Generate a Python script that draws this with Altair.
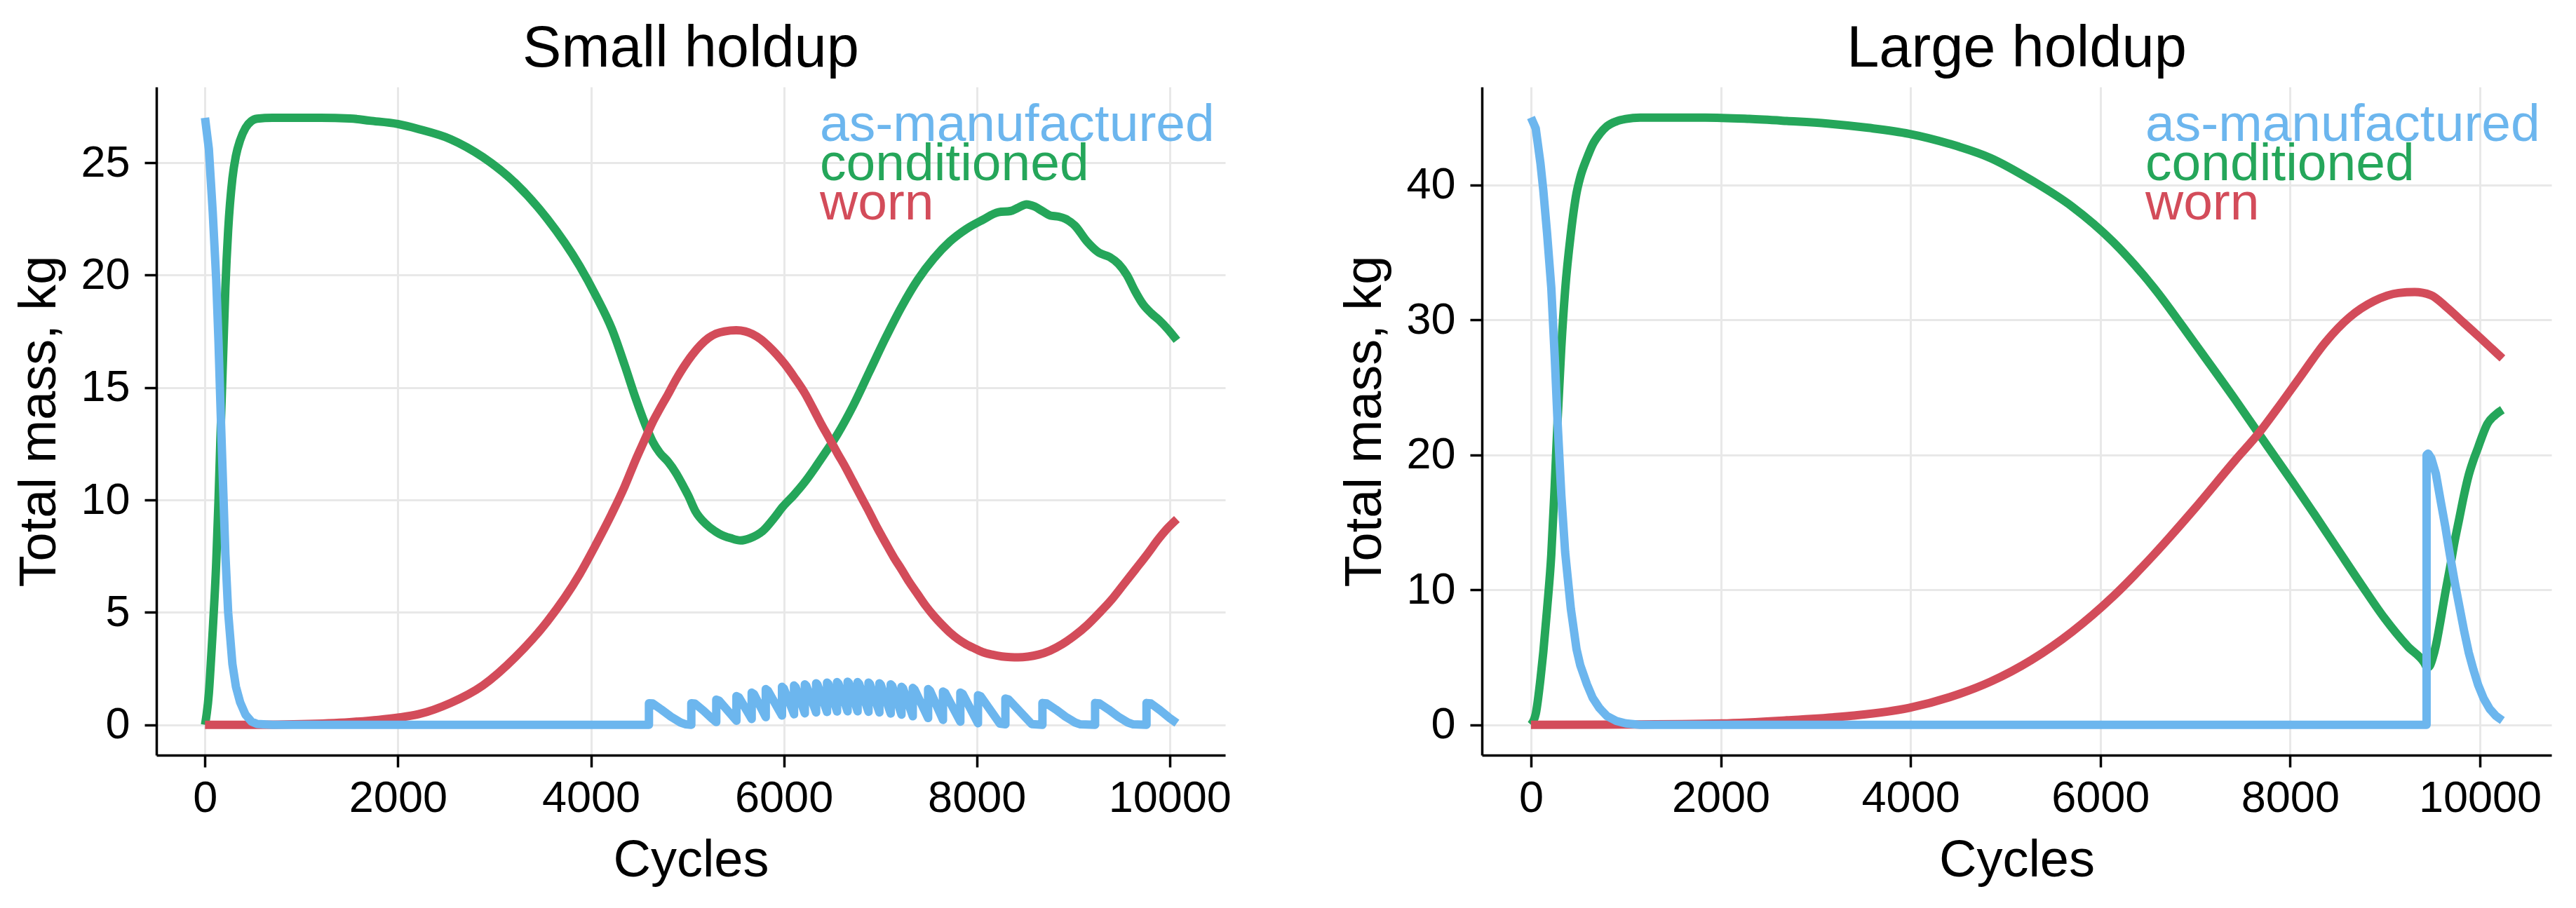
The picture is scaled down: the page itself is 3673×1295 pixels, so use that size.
import altair as alt
import pandas as pd

FONT = "Liberation Sans"
BLUE = "#6cb6ee"
GREEN = "#25a65a"
RED = "#d34c5a"

SERIES_NAMES = ["as-manufactured", "conditioned", "worn"]
SERIES_COLORS = [BLUE, GREEN, RED]
X_TICKS = [0, 2000, 4000, 6000, 8000, 10000]

# ---------------- Small holdup ----------------
SMALL_TITLE = "Small holdup"
SMALL_Y_TICKS = [0, 5, 10, 15, 20, 25]
SMALL_X_DOMAIN = [-504, 10576]
SMALL_Y_DOMAIN = [-1.35, 28.37]

SMALL_AM_CYCLES = [
    0, 40, 80, 116, 140, 163, 190, 211, 240, 284, 320, 364, 420, 480, 540, 700, 4602,
    4602, 4640, 4730, 4830, 4930, 4985, 5041,
    5041, 5080, 5170, 5250, 5300,
    5300, 5330, 5509,
    5509, 5535, 5667,
    5667, 5690, 5813,
    5813, 5835, 5981,
    5981, 6000, 6106,
    6106, 6122, 6218,
    6218, 6234, 6335,
    6335, 6350, 6448,
    6448, 6463, 6552,
    6552, 6567, 6661,
    6661, 6676, 6765,
    6765, 6780, 6878,
    6878, 6893, 6991,
    6991, 7006, 7108,
    7108, 7124, 7220,
    7220, 7236, 7337,
    7337, 7355, 7496,
    7496, 7515, 7650,
    7650, 7672, 7830,
    7830, 7855, 8013,
    8013, 8040, 8240, 8297,
    8297, 8330, 8570, 8681,
    8681, 8725, 8820, 8920, 9020, 9075, 9227,
    9227, 9272, 9367, 9467, 9567, 9622, 9760,
    9760, 9805, 9900, 10000, 10075,
]
SMALL_AM_MASS = [
    27.0, 25.6, 22.8, 19.8, 17.0, 13.8, 10.3, 7.6, 5.0, 2.7, 1.7, 1.0, 0.45, 0.15, 0.04, 0.0, 0.0,
    0.96, 0.95, 0.68, 0.36, 0.10, 0.02, 0.0,
    0.96, 0.94, 0.62, 0.30, 0.12,
    1.12, 1.07, 0.18,
    1.28, 1.22, 0.26,
    1.43, 1.37, 0.34,
    1.59, 1.52, 0.41,
    1.69, 1.62, 0.47,
    1.75, 1.68, 0.51,
    1.80, 1.73, 0.55,
    1.85, 1.78, 0.57,
    1.88, 1.81, 0.59,
    1.90, 1.83, 0.60,
    1.92, 1.85, 0.60,
    1.90, 1.83, 0.58,
    1.88, 1.81, 0.55,
    1.85, 1.78, 0.50,
    1.80, 1.73, 0.45,
    1.69, 1.62, 0.38,
    1.64, 1.57, 0.30,
    1.59, 1.52, 0.22,
    1.48, 1.42, 0.14,
    1.43, 1.37, 0.07,
    1.32, 1.27, 0.05, 0.02,
    1.17, 1.13, 0.03, 0.0,
    0.97, 0.95, 0.68, 0.36, 0.10, 0.02, 0.0,
    0.97, 0.95, 0.68, 0.36, 0.10, 0.02, 0.0,
    0.97, 0.95, 0.65, 0.30, 0.07,
]

SMALL_COND_CYCLES = [
    0, 40, 65, 80, 116, 140, 163, 190, 211, 240, 284, 320, 364, 420, 480, 540, 700,
    1200, 1500, 1709, 2000, 2211, 2545, 2880, 3215, 3549, 3884, 4050, 4218, 4350,
    4466, 4560, 4640, 4714, 4800, 4882, 4960, 5009, 5084, 5200, 5330, 5450, 5550,
    5650, 5789, 5900, 5990, 6100, 6218, 6335, 6430, 6553, 6720, 6887, 7054, 7222,
    7389, 7556, 7723, 7891, 8058, 8225, 8349, 8430, 8516, 8600, 8680, 8764, 8850,
    8920, 9018, 9142, 9266, 9380, 9470, 9557, 9640, 9724, 9810, 9891, 9980, 10075,
]
SMALL_COND_MASS = [
    0.0, 1.4, 3.1, 4.2, 7.2, 10.0, 13.2, 16.7, 19.4, 22.0, 24.3, 25.3, 26.0, 26.55, 26.85, 26.96, 27.0,
    27.0, 26.97, 26.87, 26.72, 26.5, 26.05, 25.25, 24.1, 22.5, 20.4, 19.1, 17.6, 16.0,
    14.5, 13.4, 12.6, 12.1, 11.7, 11.2, 10.6, 10.2, 9.5, 8.9, 8.5, 8.3, 8.2,
    8.3, 8.65, 9.2, 9.7, 10.2, 10.8, 11.5, 12.1, 12.9, 14.2, 15.7, 17.2, 18.6,
    19.8, 20.75, 21.5, 22.05, 22.45, 22.8, 22.85, 23.0, 23.15, 23.05, 22.85, 22.65, 22.6,
    22.5, 22.2, 21.5, 21.0, 20.8, 20.5, 20.0, 19.3, 18.7, 18.3, 18.0, 17.6, 17.1,
]

SMALL_WORN_CYCLES = [
    0, 500, 1000, 1500, 1800, 2000, 2211, 2545, 2880, 3215, 3549, 3884, 4050, 4218,
    4350, 4466, 4560, 4633, 4714, 4800, 4882, 4960, 5050, 5140, 5218, 5300, 5385,
    5507, 5600, 5673, 5760, 5840, 5920, 6009, 6110, 6218, 6300, 6385, 6470, 6553,
    6640, 6720, 6800, 6887, 6970, 7054, 7140, 7222, 7300, 7389, 7470, 7556, 7640,
    7723, 7810, 7891, 7975, 8058, 8160, 8262, 8350, 8429, 8530, 8640, 8760, 8888,
    9010, 9142, 9265, 9389, 9515, 9643, 9770, 9891, 9980, 10075,
]
SMALL_WORN_MASS = [
    0.0, 0.0, 0.03, 0.12, 0.22, 0.32, 0.47, 0.97, 1.75, 3.0, 4.6, 6.7, 8.0, 9.4,
    10.6, 11.8, 12.7, 13.4, 14.05, 14.7, 15.35, 15.9, 16.45, 16.9, 17.2, 17.4, 17.5,
    17.55, 17.5, 17.38, 17.15, 16.85, 16.5, 16.05, 15.45, 14.75, 14.1, 13.4, 12.75, 12.1,
    11.45, 10.8, 10.15, 9.45, 8.75, 8.1, 7.45, 6.9, 6.35, 5.8, 5.3, 4.84, 4.45,
    4.1, 3.8, 3.58, 3.4, 3.24, 3.12, 3.04, 3.01, 3.0, 3.03, 3.12, 3.3, 3.59,
    3.95, 4.42, 4.95, 5.52, 6.2, 6.9, 7.6, 8.3, 8.75, 9.15,
]

# ---------------- Large holdup ----------------
LARGE_TITLE = "Large holdup"
LARGE_Y_TICKS = [0, 10, 20, 30, 40]
LARGE_X_DOMAIN = [-517, 10754]
LARGE_Y_DOMAIN = [-2.25, 47.27]

LARGE_AM_CYCLES = [
    0, 50, 100, 130, 170, 214, 250, 280, 320, 360, 420, 480, 520, 590, 650, 720,
    800, 900, 1000, 1150, 9438,
    9438, 9455, 9488, 9536, 9586, 9635, 9684, 9734, 9783, 9832, 9882, 9931, 9981,
    10040, 10104, 10170, 10237,
]
LARGE_AM_MASS = [
    45.0, 44.2, 41.6, 39.6, 36.4, 32.4, 27.3, 22.5, 17.0, 12.8, 8.6, 5.6, 4.4, 3.0, 2.0, 1.25,
    0.65, 0.28, 0.1, 0.0, 0.0,
    20.0, 20.1, 19.75, 18.6, 16.6, 14.7, 12.6, 10.6, 8.8, 7.0, 5.36, 4.1, 2.96,
    1.95, 1.17, 0.65, 0.32,
]

LARGE_COND_CYCLES = [
    0, 50, 100, 130, 170, 214, 250, 280, 320, 360, 420, 480, 520, 590, 650, 720,
    800, 900, 1000, 1150, 1836, 2300, 2695, 3125, 3555, 3984, 4413, 4844, 5273,
    5703, 6133, 6563, 6992, 7421, 7766, 8024, 8256, 8502, 8749, 8995, 9241, 9414,
    9445, 9470, 9500, 9537, 9586, 9635, 9684, 9734, 9783, 9832, 9882, 9931, 9981,
    10030, 10079, 10160, 10237,
]
LARGE_COND_MASS = [
    0.0, 0.8, 3.4, 5.4, 8.6, 12.6, 17.7, 22.5, 28.0, 32.2, 36.4, 39.4, 40.6, 42.0, 43.0, 43.75,
    44.35, 44.72, 44.9, 45.0, 45.0, 44.9, 44.75, 44.56, 44.24, 43.8, 43.05, 42.0, 40.36,
    38.4, 35.8, 32.4, 28.3, 24.1, 20.6, 18.0, 15.6, 13.0, 10.4, 7.9, 5.8, 4.6,
    4.25, 4.35, 4.9, 5.9, 7.76, 9.77, 11.6, 13.6, 15.3, 17.0, 18.5, 19.6, 20.55,
    21.5, 22.3, 22.95, 23.35,
]

LARGE_WORN_CYCLES = [
    0, 1000, 2008, 2695, 3383, 3984, 4413, 4844, 5273, 5703, 6133, 6563, 6992, 7421,
    7680, 7851, 8108, 8367, 8626, 8884, 9142, 9313, 9482, 9656, 9828, 10000, 10237,
]
LARGE_WORN_MASS = [
    0.0, 0.02, 0.1, 0.33, 0.67, 1.25, 2.05, 3.2, 4.8, 6.9, 9.5, 12.6, 16.0, 19.6,
    21.7, 23.3, 25.8, 28.3, 30.2, 31.4, 32.0, 32.07, 31.85, 30.9, 29.8, 28.7, 27.15,
]

PLOT_W = 1524
PLOT_H = 953
LINE_W = 12


def frame(cycles, mass):
    return pd.DataFrame({"i": list(range(len(cycles))), "cycles": cycles, "mass": mass})


def panel(title, series, x_domain, y_domain, y_ticks, width):
    x_enc = alt.X(
        "cycles:Q",
        scale=alt.Scale(domain=x_domain, nice=False, zero=False),
        axis=alt.Axis(
            values=X_TICKS, format="d", title="Cycles", labelFlush=False,
            labelBaseline="alphabetic", labelPadding=63,
            titleX=width / 2, titleY=172, titleBaseline="alphabetic", titleAlign="center",
        ),
    )
    y_enc = alt.Y(
        "mass:Q",
        scale=alt.Scale(domain=y_domain, nice=False, zero=False),
        axis=alt.Axis(
            values=y_ticks, format="d", title="Total mass, kg", labelPadding=21,
            labelBaseline="middle", titleX=-145, titleY=PLOT_H / 2, titleAngle=270,
            titleBaseline="alphabetic", titleAlign="center",
        ),
    )
    layers = []
    # conditioned at the bottom, worn above it, as-manufactured on top
    for (cyc, val), color, interp in series:
        layers.append(
            alt.Chart(frame(cyc, val))
            .mark_line(color=color, strokeWidth=LINE_W, strokeJoin="round", strokeCap="butt",
                       interpolate=interp)
            .encode(x=x_enc, y=y_enc, order="i:Q")
        )
    layers.append(
        alt.Chart(pd.DataFrame({"t": [title]}))
        .mark_text(font=FONT, fontSize=83, color="black", align="center", baseline="alphabetic")
        .encode(text="t:N", x=alt.value(width / 2), y=alt.value(-29))
    )
    for k, (name, color) in enumerate(zip(SERIES_NAMES, SERIES_COLORS)):
        layers.append(
            alt.Chart(pd.DataFrame({"t": [name]}))
            .mark_text(font=FONT, fontSize=75, color=color, align="left", baseline="alphabetic")
            .encode(text="t:N", x=alt.value(946), y=alt.value(77 + 56 * k))
        )
    return alt.layer(*layers).properties(width=width, height=PLOT_H)


small = panel(
    SMALL_TITLE,
    [
        ((SMALL_COND_CYCLES, SMALL_COND_MASS), GREEN, "monotone"),
        ((SMALL_WORN_CYCLES, SMALL_WORN_MASS), RED, "monotone"),
        ((SMALL_AM_CYCLES, SMALL_AM_MASS), BLUE, "linear"),
    ],
    SMALL_X_DOMAIN, SMALL_Y_DOMAIN, SMALL_Y_TICKS, PLOT_W,
)
large = panel(
    LARGE_TITLE,
    [
        ((LARGE_COND_CYCLES, LARGE_COND_MASS), GREEN, "monotone"),
        ((LARGE_WORN_CYCLES, LARGE_WORN_MASS), RED, "monotone"),
        ((LARGE_AM_CYCLES, LARGE_AM_MASS), BLUE, "linear"),
    ],
    LARGE_X_DOMAIN, LARGE_Y_DOMAIN, LARGE_Y_TICKS, PLOT_W + 1,
)

chart = (
    alt.hconcat(small, large, spacing=153)
    .properties(padding={"left": 19, "top": 29, "right": 20, "bottom": 20})
    .configure_view(stroke=None)
    .configure_axis(
        domainColor="black", domainWidth=3.5, tickColor="black", tickWidth=3.5, tickSize=17,
        labelFont=FONT, labelFontSize=63, labelColor="black",
        titleFont=FONT, titleFontSize=74, titleFontWeight="normal", titleColor="black",
        gridColor="#e8e8e8", gridWidth=3,
    )
)

chart.save("out.html", embed_options={"renderer": "svg", "actions": False})
